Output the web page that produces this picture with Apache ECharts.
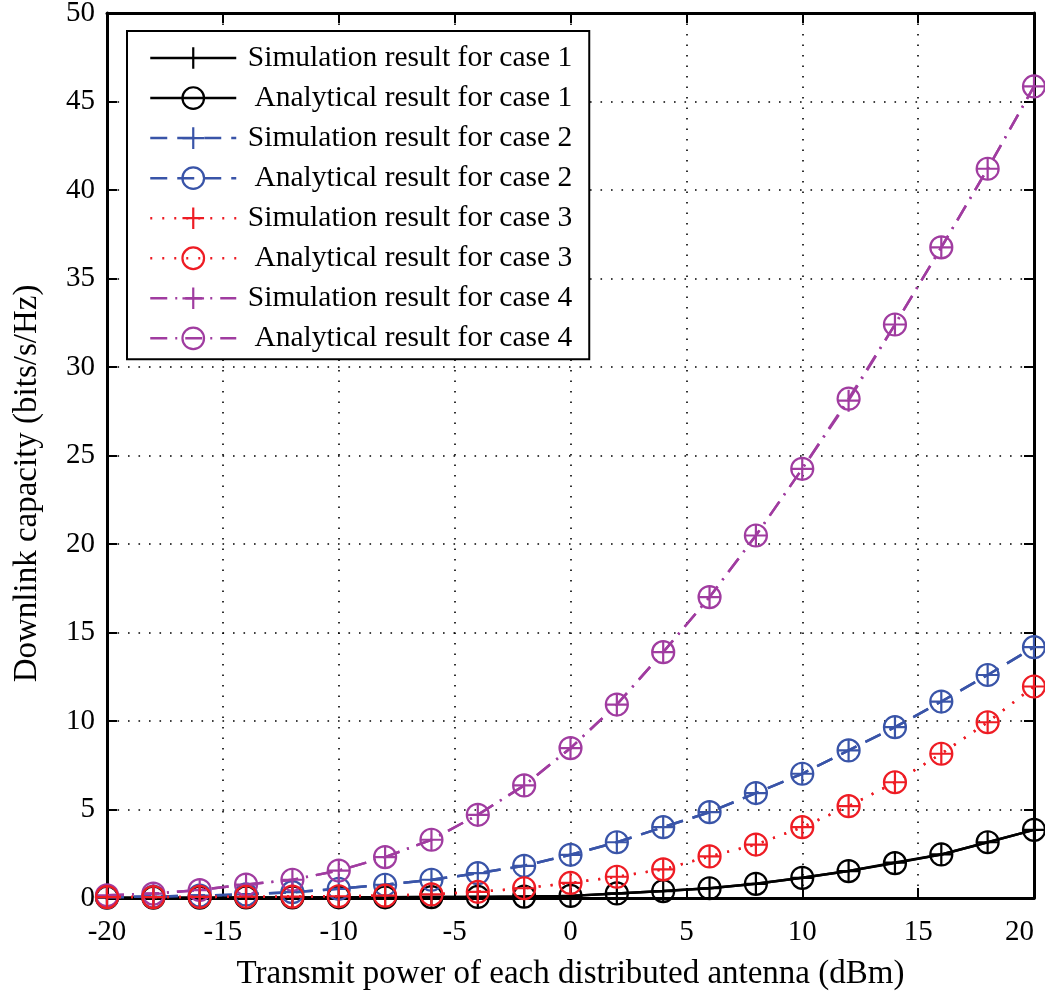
<!DOCTYPE html>
<html>
<head>
<meta charset="utf-8">
<script src="https://cdn.jsdelivr.net/npm/echarts@6.0.0/dist/echarts.min.js"></script>
<style>
  html, body { margin: 0; padding: 0; background: #fff; }
  #chart1 { width: 1045px; height: 999px; }
</style>
</head>
<body>
<div id="chart1"></div>
<script>
// transmit power (dBm) on the x axis
var power = [-20, -18, -16, -14, -12, -10, -8, -6, -4, -2, 0, 2, 4, 6, 8, 10, 12, 14, 16, 18, 20];

// downlink capacity (bits/s/Hz)
var simCase1 = [0.02, 0.02, 0.02, 0.03, 0.03, 0.04, 0.04, 0.05, 0.06, 0.08, 0.12, 0.26, 0.39, 0.55, 0.8, 1.14, 1.52, 2.0, 2.46, 3.15, 3.85];
var anaCase1 = [0.02, 0.02, 0.02, 0.03, 0.03, 0.04, 0.04, 0.05, 0.06, 0.08, 0.12, 0.26, 0.39, 0.55, 0.8, 1.14, 1.52, 1.97, 2.46, 3.15, 3.85];
var simCase2 = [0.05, 0.08, 0.14, 0.2, 0.33, 0.52, 0.75, 1.03, 1.4, 1.82, 2.44, 3.15, 4.0, 4.85, 5.93, 7.02, 8.34, 9.65, 11.1, 12.6, 14.17];
var anaCase2 = [0.05, 0.08, 0.14, 0.2, 0.33, 0.52, 0.75, 1.03, 1.4, 1.82, 2.44, 3.15, 4.0, 4.85, 5.93, 7.02, 8.34, 9.65, 11.1, 12.6, 14.17];
var simCase3 = [0.05, 0.05, 0.06, 0.07, 0.08, 0.1, 0.13, 0.2, 0.35, 0.55, 0.85, 1.2, 1.62, 2.35, 3.02, 4.0, 5.19, 6.54, 8.15, 9.93, 11.95];
var anaCase3 = [0.05, 0.05, 0.06, 0.07, 0.08, 0.1, 0.13, 0.2, 0.35, 0.55, 0.85, 1.2, 1.62, 2.35, 3.02, 4.0, 5.19, 6.54, 8.15, 9.93, 11.95];
var simCase4 = [0.15, 0.25, 0.45, 0.76, 1.03, 1.55, 2.31, 3.29, 4.7, 6.36, 8.47, 10.93, 13.89, 17.0, 20.48, 24.25, 28.1, 32.4, 36.76, 41.2, 45.85];
var anaCase4 = [0.15, 0.25, 0.45, 0.76, 1.03, 1.55, 2.31, 3.29, 4.7, 6.36, 8.47, 10.93, 13.89, 17.0, 20.48, 24.25, 28.21, 32.4, 36.76, 41.2, 45.85];

var names = [
  'Simulation result for case 1', 'Analytical result for case 1',
  'Simulation result for case 2', 'Analytical result for case 2',
  'Simulation result for case 3', 'Analytical result for case 3',
  'Simulation result for case 4', 'Analytical result for case 4'
];

var myChart = echarts.init(document.getElementById('chart1'));
var font = 'Liberation Serif';
var plusIcon = 'path://M10,0L10,20M0,10L20,10';

var black = '#000000', blue = '#3954a8', red = '#ee1c24', purple = '#a03ca0';
var solid = 'solid', dashed = [17, 10], dotted = [2, 10], dashDot = [17, 8, 2, 8];

function pairs(vals) {
  return power.map(function (p, i) { return [p, vals[i]]; });
}

function curve(name, vals, color, dash, symbol, z) {
  return {
    name: name,
    type: 'line',
    data: pairs(vals),
    symbol: symbol,
    symbolSize: 22,
    showAllSymbol: true,
    z: z,
    animation: false,
    lineStyle: { color: color, width: 2.5, type: dash },
    itemStyle: { color: 'rgba(0,0,0,0)', borderColor: color, borderWidth: 2.2 },
    emphasis: { disabled: true }
  };
}

var axisCommon = {
  type: 'value',
  axisLine: { show: true, onZero: false, lineStyle: { color: '#000', width: 3 } },
  axisTick: { show: true, inside: true, length: 10, lineStyle: { color: '#000', width: 2 } }
};

option = {
  backgroundColor: '#fff',
  grid: { left: 107, right: 11, top: 13, bottom: 101, containLabel: false, outerBoundsMode: 'none' },
  legend: {
    data: names,
    orient: 'vertical',
    left: 127,
    top: 31,
    padding: [12, 17, 6, 22],
    itemWidth: 86,
    itemHeight: 27,
    itemGap: 10.05,
    backgroundColor: '#fff',
    borderColor: '#000',
    borderWidth: 2,
    borderRadius: 0,
    selectedMode: false,
    itemStyle: { color: 'rgba(0,0,0,0)', borderWidth: 2.2 },
    lineStyle: { width: 2.5 },
    formatter: function (n) { return '{t|' + n + '}'; },
    textStyle: {
      rich: {
        t: { width: 331, align: 'right', fontFamily: font, fontSize: 29.5, lineHeight: 29, color: '#000' }
      }
    }
  },
  xAxis: [
    Object.assign({}, axisCommon, {
      min: -20, max: 20, interval: 5, position: 'bottom',
      name: 'Transmit power of each distributed antenna (dBm)',
      nameLocation: 'middle', nameGap: 60,
      nameTextStyle: { fontFamily: font, fontSize: 33, color: '#000' },
      axisLabel: { fontFamily: font, fontSize: 29, color: '#000', margin: 20, alignMaxLabel: 'right' },
      splitLine: { show: true, lineStyle: { color: '#000', width: 1.6, type: [1.6, 8.9] } }
    }),
    Object.assign({}, axisCommon, {
      min: -20, max: 20, interval: 5, position: 'top',
      axisLabel: { show: false }, splitLine: { show: false }
    })
  ],
  yAxis: [
    Object.assign({}, axisCommon, {
      min: 0, max: 50, interval: 5, position: 'left',
      name: 'Downlink capacity (bits/s/Hz)',
      nameLocation: 'middle', nameGap: 63,
      nameTextStyle: { fontFamily: font, fontSize: 33, color: '#000', padding: [0, 56, 0, 0] },
      axisLabel: { fontFamily: font, fontSize: 29, color: '#000', margin: 12 },
      splitLine: { show: true, lineStyle: { color: '#000', width: 1.6, type: [1.6, 8.9] } }
    }),
    Object.assign({}, axisCommon, {
      min: 0, max: 50, interval: 5, position: 'right',
      axisLabel: { show: false }, splitLine: { show: false }
    })
  ],
  series: [
    curve(names[0], simCase1, black, solid, plusIcon, 2),
    curve(names[1], anaCase1, black, solid, 'circle', 2),
    curve(names[2], simCase2, blue, dashed, plusIcon, 3),
    curve(names[3], anaCase2, blue, dashed, 'circle', 3),
    curve(names[4], simCase3, red, dotted, plusIcon, 5),
    curve(names[5], anaCase3, red, dotted, 'circle', 5),
    curve(names[6], simCase4, purple, dashDot, plusIcon, 4),
    curve(names[7], anaCase4, purple, dashDot, 'circle', 4)
  ]
};

myChart.setOption(option);
</script>
</body>
</html>
